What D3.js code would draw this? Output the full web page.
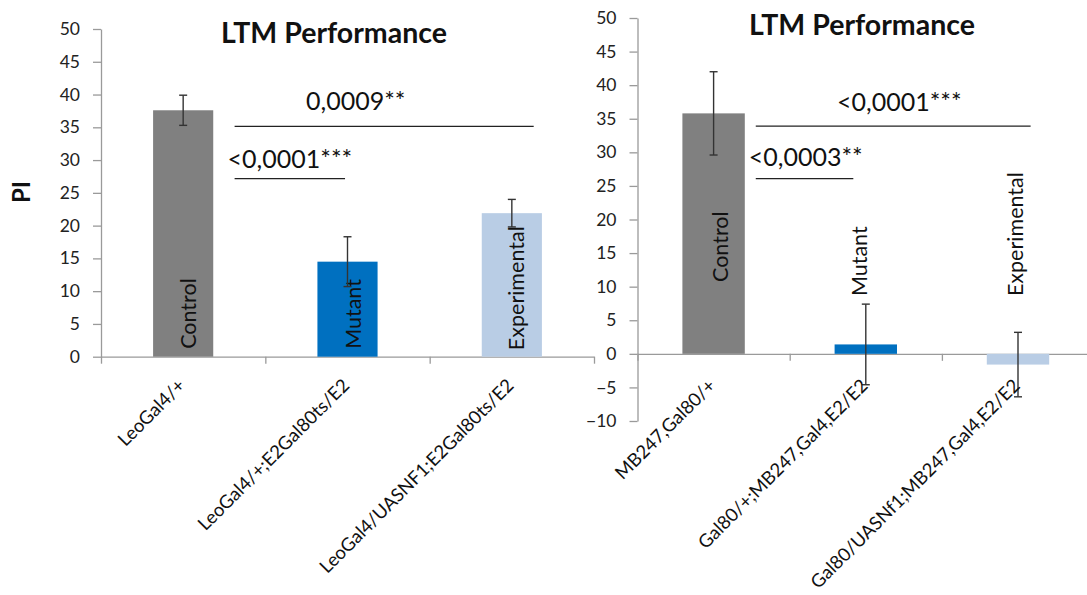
<!DOCTYPE html>
<html>
<head>
<meta charset="utf-8">
<script src="https://cdn.jsdelivr.net/npm/d3@7"></script>
<style>
  html, body { margin: 0; padding: 0; background: #fff; }
  svg { display: block; font-family: Lato, "Open Sans", sans-serif; }
</style>
</head>
<body>
<svg id="chart" width="1087" height="595"></svg>
<script>
// Genotype groups shared by both panels
const groupNames = ["Control", "Mutant", "Experimental"];
const groupColors = ["#808080", "#0070C0", "#B9CDE5"];

// LeoGal4 panel
const leoCategories = ["LeoGal4/+", "LeoGal4/+;E2Gal80ts/E2", "LeoGal4/UASNF1;E2Gal80ts/E2"];
const leoPI = [37.6, 14.5, 21.9];
const leoSEM = [2.3, 3.8, 2.1];
const leoTicks = [0, 5, 10, 15, 20, 25, 30, 35, 40, 45, 50];
const leoPValues = ["0,0009**", "<0,0001***"];

// MB247 panel
const mbCategories = ["MB247,Gal80/+", "Gal80/+;MB247,Gal4,E2/E2", "Gal80/UASNf1;MB247,Gal4,E2/E2"];
const mbPI = [35.8, 1.4, -1.6];
const mbSEM = [6.2, 6.0, 4.8];
const mbTicks = [-10, -5, 0, 5, 10, 15, 20, 25, 30, 35, 40, 45, 50];
const mbPValues = ["<0,0001***", "<0,0003**"];

const chartTitle = "LTM Performance";
const yTitle = "PI";

const svg = d3.select("#chart");
const axisColor = "#9a9a9a";

function drawPanel(p) {
  const g = svg.append("g");
  const y = d3.scaleLinear().domain(p.yDomain).range(p.yRange);
  const x = d3.scaleBand().domain(p.categories).range(p.xRange).padding(0);
  const xEdge = d3.scaleLinear().domain([0, p.categories.length]).range(p.xRange);
  const step = x.step();
  const bw = step * p.barFrac;
  const y0 = y(0);

  // value axis
  const yAxis = g.append("g")
    .attr("transform", `translate(${p.xRange[0]},0)`)
    .call(d3.axisLeft(y).tickValues(p.ticks).tickSize(8).tickSizeOuter(0).tickPadding(13).tickFormat(d3.format("d")));
  yAxis.selectAll("path, line").attr("stroke", axisColor).attr("stroke-width", 1.3);
  yAxis.selectAll("text").attr("fill", "#222").style("font-size", "17.5px").style("font-family", "Lato");

  // category axis along zero
  const xAxis = g.append("g")
    .attr("transform", `translate(0,${y0})`)
    .call(d3.axisBottom(xEdge).tickValues(d3.range(p.categories.length + 1)).tickSize(7).tickSizeOuter(0).tickFormat(""));
  xAxis.selectAll("path, line").attr("stroke", axisColor).attr("stroke-width", 1.3);

  // bars
  g.selectAll("rect.bar").data(p.values).join("rect")
    .attr("class", "bar")
    .attr("x", (d, i) => x(p.categories[i]) + (step - bw) / 2)
    .attr("width", bw)
    .attr("y", d => Math.min(y(d), y0))
    .attr("height", d => Math.abs(y(d) - y0))
    .attr("fill", (d, i) => groupColors[i]);

  // group names written on the bars
  g.selectAll("text.group").data(groupNames).join("text")
    .attr("class", "group")
    .attr("transform", (d, i) => {
      const cx = x(p.categories[i]) + step / 2 + p.nameDx[i];
      return `translate(${cx},${y(p.nameBase[i])}) rotate(-90)`;
    })
    .attr("dy", "0.35em")
    .attr("text-anchor", "start")
    .attr("fill", "#111")
    .style("font-size", "21.5px")
    .text(d => d);

  // error bars
  const eb = g.selectAll("g.err").data(p.values).join("g").attr("class", "err")
    .attr("transform", (d, i) => `translate(${x(p.categories[i]) + step / 2},0)`);
  eb.append("line")
    .attr("y1", (d, i) => y(d + p.errors[i]))
    .attr("y2", (d, i) => y(d - p.errors[i]))
    .attr("stroke", "#333").attr("stroke-width", 1.4);
  [1, -1].forEach(s => {
    eb.append("line")
      .attr("x1", -4).attr("x2", 4)
      .attr("y1", (d, i) => y(d + s * p.errors[i]))
      .attr("y2", (d, i) => y(d + s * p.errors[i]))
      .attr("stroke", "#333").attr("stroke-width", 1.4);
  });

  // significance brackets: control vs each line
  p.sig.forEach((s, k) => {
    const xa = x(p.categories[0]) + step * s.from;
    const xb = x(p.categories[s.toIdx]) + step * s.to;
    const ly = y(s.level);
    g.append("line")
      .attr("x1", xa).attr("x2", xb).attr("y1", ly).attr("y2", ly)
      .attr("stroke", "#222").attr("stroke-width", 1.3);
    g.append("text")
      .attr("x", s.anchor === "middle" ? x(p.categories[s.textIdx]) + step * s.textPos : xa - 7)
      .attr("y", ly - s.textGap)
      .attr("text-anchor", s.anchor)
      .attr("fill", "#111")
      .style("font-size", "25px")
      .text(p.pValues[k]);
  });

  // genotype labels
  g.selectAll("text.cat").data(p.categories).join("text")
    .attr("class", "cat")
    .attr("transform", d => `translate(${x(d) + step / 2 + p.catDx},${y0 + p.catDy}) rotate(-45)`)
    .attr("text-anchor", "end")
    .attr("fill", "#111")
    .style("font-size", "18.5px")
    .text(d => d);

  // panel title
  g.append("text")
    .attr("x", p.titleX).attr("y", p.titleY)
    .attr("text-anchor", "middle")
    .attr("fill", "#111")
    .style("font-size", "28.5px").style("font-weight", "bold")
    .text(chartTitle);
}

drawPanel({
  categories: leoCategories, values: leoPI, errors: leoSEM, ticks: leoTicks, pValues: leoPValues,
  yDomain: [0, 50], yRange: [356.7, 29], xRange: [101, 594], barFrac: 0.366,
  nameBase: [1.2, 1.2, 1.0], nameDx: [5, 6, 5],
  catDx: 3, catDy: 30,
  sig: [
    { from: 0.813, toIdx: 2, to: 0.633, level: 35.15, textIdx: 1, textPos: 0.55, textGap: 16, anchor: "middle" },
    { from: 0.813, toIdx: 1, to: 0.485, level: 27.16, textGap: 11, anchor: "start" }
  ],
  titleX: 334, titleY: 43
});

drawPanel({
  categories: mbCategories, values: mbPI, errors: mbSEM, ticks: mbTicks, pValues: mbPValues,
  yDomain: [-10, 50], yRange: [421, 18], xRange: [637.5, 1094.1], barFrac: 0.41,
  nameBase: [10.7, 8.6, 8.6], nameDx: [7, -6, -3],
  catDx: 3, catDy: 33,
  sig: [
    { from: 0.777, toIdx: 2, to: 0.583, level: 33.9, textIdx: 1, textPos: 0.72, textGap: 15, anchor: "middle" },
    { from: 0.777, toIdx: 1, to: 0.418, level: 26.1, textGap: 13, anchor: "start" }
  ],
  titleX: 862, titleY: 35
});

// shared value-axis title
svg.append("text")
  .attr("transform", "translate(22,192) rotate(-90)")
  .attr("text-anchor", "middle")
  .attr("dy", "0.35em")
  .attr("fill", "#111")
  .style("font-size", "24px").style("font-weight", "bold")
  .text(yTitle);
</script>
</body>
</html>
